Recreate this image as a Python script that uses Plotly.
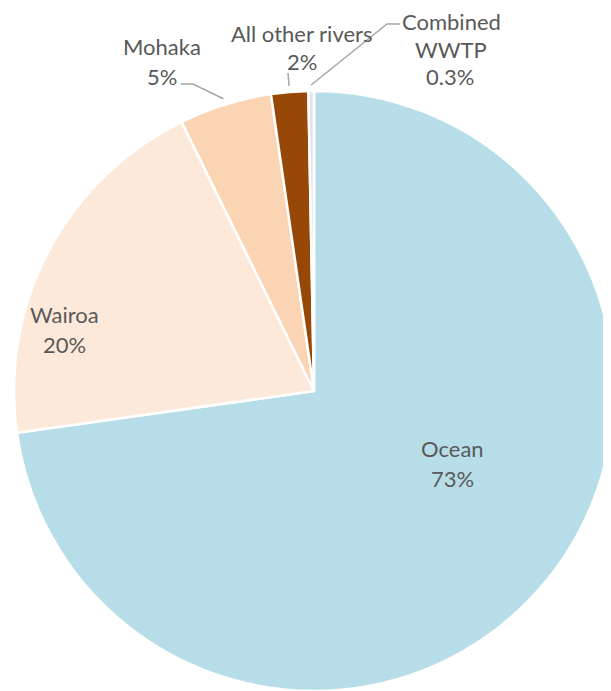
import math
import plotly.graph_objects as go

# ---- data ----
categories = ["Ocean", "Wairoa", "Mohaka", "All other rivers", "Combined<br>WWTP"]
values = [73, 20, 5, 2, 0.3]
pct_labels = ["73%", "20%", "5%", "2%", "0.3%"]
colors = ["#B7DEE8", "#FDE9D9", "#FBD4B4", "#974806", "#E4DFEC"]

# ---- figure geometry (window pixels; page body has an 8px margin) ----
W, H = 611, 691
OFF = 8
CX, CY, R = 314, 391, 300

def px(x):
    return (x - OFF) / W

def py(y):
    return 1 - (y - OFF) / H

fig = go.Figure(go.Pie(
    labels=categories,
    values=values,
    sort=False,
    direction="clockwise",
    rotation=0,
    textinfo="none",
    hoverinfo="label+percent",
    marker=dict(colors=colors, line=dict(color="white", width=2.5)),
    domain=dict(x=[px(CX - R), px(CX + R)], y=[py(CY + R), py(CY - R)]),
    showlegend=False,
))

# label placement (pixel centres for name line and percent line)
name_pos = [(453, 448), (64, 314), (162, 47), (302, 33), (451, 22)]
name_step = [29, 29, 29, 29, 27]
pct_pos = [(453, 478), (64, 344), (162, 77), (302, 61), (450, 77)]
font = dict(family="Lato, Open Sans, sans-serif", size=22, color="#595959")

annotations = []
for i, cat in enumerate(categories):
    parts = cat.split("<br>")
    nx, ny = name_pos[i]
    for j, part in enumerate(parts):
        annotations.append(dict(x=px(nx), y=py(ny + name_step[i] * j), xref="paper", yref="paper",
                                text=part, showarrow=False, font=font,
                                xanchor="center", yanchor="middle"))
    qx, qy = pct_pos[i]
    annotations.append(dict(x=px(qx), y=py(qy), xref="paper", yref="paper",
                            text=pct_labels[i], showarrow=False, font=font,
                            xanchor="center", yanchor="middle"))

# leader lines to slice mid-points computed from data
total = sum(values)
def slice_point(i, k=1.02):
    before = sum(values[:i])
    ang = (before + values[i] / 2) / total * 2 * math.pi
    return CX + R * k * math.sin(ang), CY - R * k * math.cos(ang)

leader_starts = {2: [(181, 84), (193, 84)], 3: [(288, 73)], 4: [(400, 24), (387, 24)]}
shapes = []
for i, pts in leader_starts.items():
    ex, ey = slice_point(i)
    path_pts = pts + [(ex, ey)]
    d = "M " + " L ".join(f"{px(x):.5f},{py(y):.5f}" for x, y in path_pts)
    shapes.append(dict(type="path", path=d, xref="paper", yref="paper",
                       line=dict(color="#A6A6A6", width=1.5)))

fig.update_layout(
    width=W, height=H,
    margin=dict(l=0, r=0, t=0, b=0),
    paper_bgcolor="white",
    plot_bgcolor="white",
    annotations=annotations,
    shapes=shapes,
)

fig.write_html("out.html")
